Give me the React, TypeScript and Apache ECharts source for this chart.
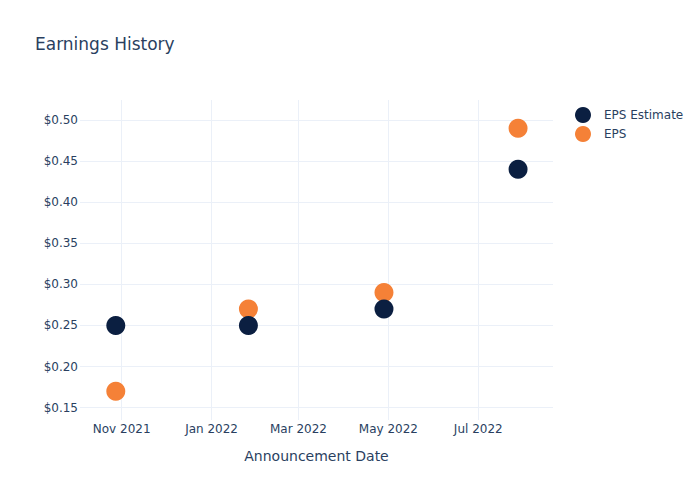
import React, { useEffect, useRef } from "react";
import * as echarts from "echarts";

const announcementDates = ["2021-10-28", "2022-01-26", "2022-04-28", "2022-07-28"];
const epsEstimate = [0.25, 0.25, 0.27, 0.44];
const epsActual = [0.17, 0.27, 0.29, 0.49];
const xTickDates = ["2021-11-01", "2022-01-01", "2022-03-01", "2022-05-01", "2022-07-01"];
const xTickLabels = ["Nov 2021", "Jan 2022", "Mar 2022", "May 2022", "Jul 2022"];
const yTicks = [0.15, 0.2, 0.25, 0.3, 0.35, 0.4, 0.45, 0.5];
const xRange = ["2021-10-03T17:00:00", "2022-08-20T17:00:00"];
const yRange = [0.135, 0.5243];

const FONT = "DejaVu Sans";
const TEXT = "#2a3f5f";
const GRID = "#ebf0f8";

const ts = (s: string) => {
  const [d, t] = s.split("T");
  const [y, m, dd] = d.split("-").map(Number);
  const [hh, mm] = t ? t.split(":").map(Number) : [0, 0];
  return Date.UTC(y, m - 1, dd, hh, mm);
};

export default function App() {
  const ref = useRef<HTMLDivElement>(null);
  useEffect(() => {
    if (!ref.current) return;
    const chart = echarts.init(ref.current, undefined, { renderer: "svg" });
    const lineStyle = { color: GRID, width: 1, type: "solid" as const };
    chart.setOption({
      animation: false,
      backgroundColor: "#ffffff",
      textStyle: { fontFamily: FONT },
      title: {
        text: "Earnings History",
        left: 35,
        top: 35,
        padding: 0,
        textStyle: { fontFamily: FONT, fontSize: 17, fontWeight: "normal", color: TEXT },
      },
      legend: {
        data: ["EPS Estimate", "EPS"],
        orient: "vertical",
        left: 575,
        top: 107,
        padding: 0,
        itemWidth: 32,
        itemHeight: 16,
        itemGap: 3,
        icon: "circle",
        textStyle: { fontFamily: FONT, fontSize: 12, color: TEXT },
      },
      grid: { left: 80, right: 147, top: 100, bottom: 80, containLabel: false },
      xAxis: {
        type: "time",
        min: ts(xRange[0]),
        max: ts(xRange[1]),
        axisLine: { show: false },
        axisTick: { show: false },
        axisLabel: { show: false },
        splitLine: { show: false },
      },
      yAxis: {
        type: "value",
        min: yRange[0],
        max: yRange[1],
        axisLine: { show: false },
        axisTick: { show: false },
        axisLabel: { show: false },
        splitLine: { show: false },
      },
      graphic: [
        {
          type: "text",
          x: 316.5,
          y: 456,
          style: {
            text: "Announcement Date",
            fontFamily: FONT,
            fontSize: 14,
            fill: TEXT,
            textAlign: "center",
            textVerticalAlign: "middle",
          },
        },
      ],
      series: [
        {
          name: "grid",
          type: "scatter",
          data: [],
          z: 0,
          silent: true,
          markLine: {
            z: 0,
            silent: true,
            symbol: ["none", "none"],
            animation: false,
            lineStyle,
            emphasis: { disabled: true },
            data: [
              ...xTickDates.map((d, i) => ({
                xAxis: ts(d),
                lineStyle,
                label: {
                  show: true,
                  position: "start",
                  distance: 3,
                  formatter: xTickLabels[i],
                  fontFamily: FONT,
                  fontSize: 12,
                  color: TEXT,
                },
              })),
              ...yTicks.map((v) => ({
                yAxis: v,
                lineStyle,
                label: {
                  show: true,
                  position: "start",
                  distance: 2,
                  formatter: "$" + v.toFixed(2),
                  fontFamily: FONT,
                  fontSize: 12,
                  color: TEXT,
                },
              })),
            ],
          },
        },
        {
          name: "EPS",
          type: "scatter",
          z: 6,
          symbolSize: 19,
          itemStyle: { color: "#f58137", opacity: 1 },
          data: announcementDates.map((d, i) => [ts(d), epsActual[i]]),
        },
        {
          name: "EPS Estimate",
          type: "scatter",
          z: 7,
          symbolSize: 19,
          itemStyle: { color: "#0b1f41", opacity: 1 },
          data: announcementDates.map((d, i) => [ts(d), epsEstimate[i]]),
        },
      ],
    });
    return () => chart.dispose();
  }, []);
  return <div ref={ref} style={{ width: 700, height: 500, position: "absolute", left: 0, top: 0 }} />;
}
